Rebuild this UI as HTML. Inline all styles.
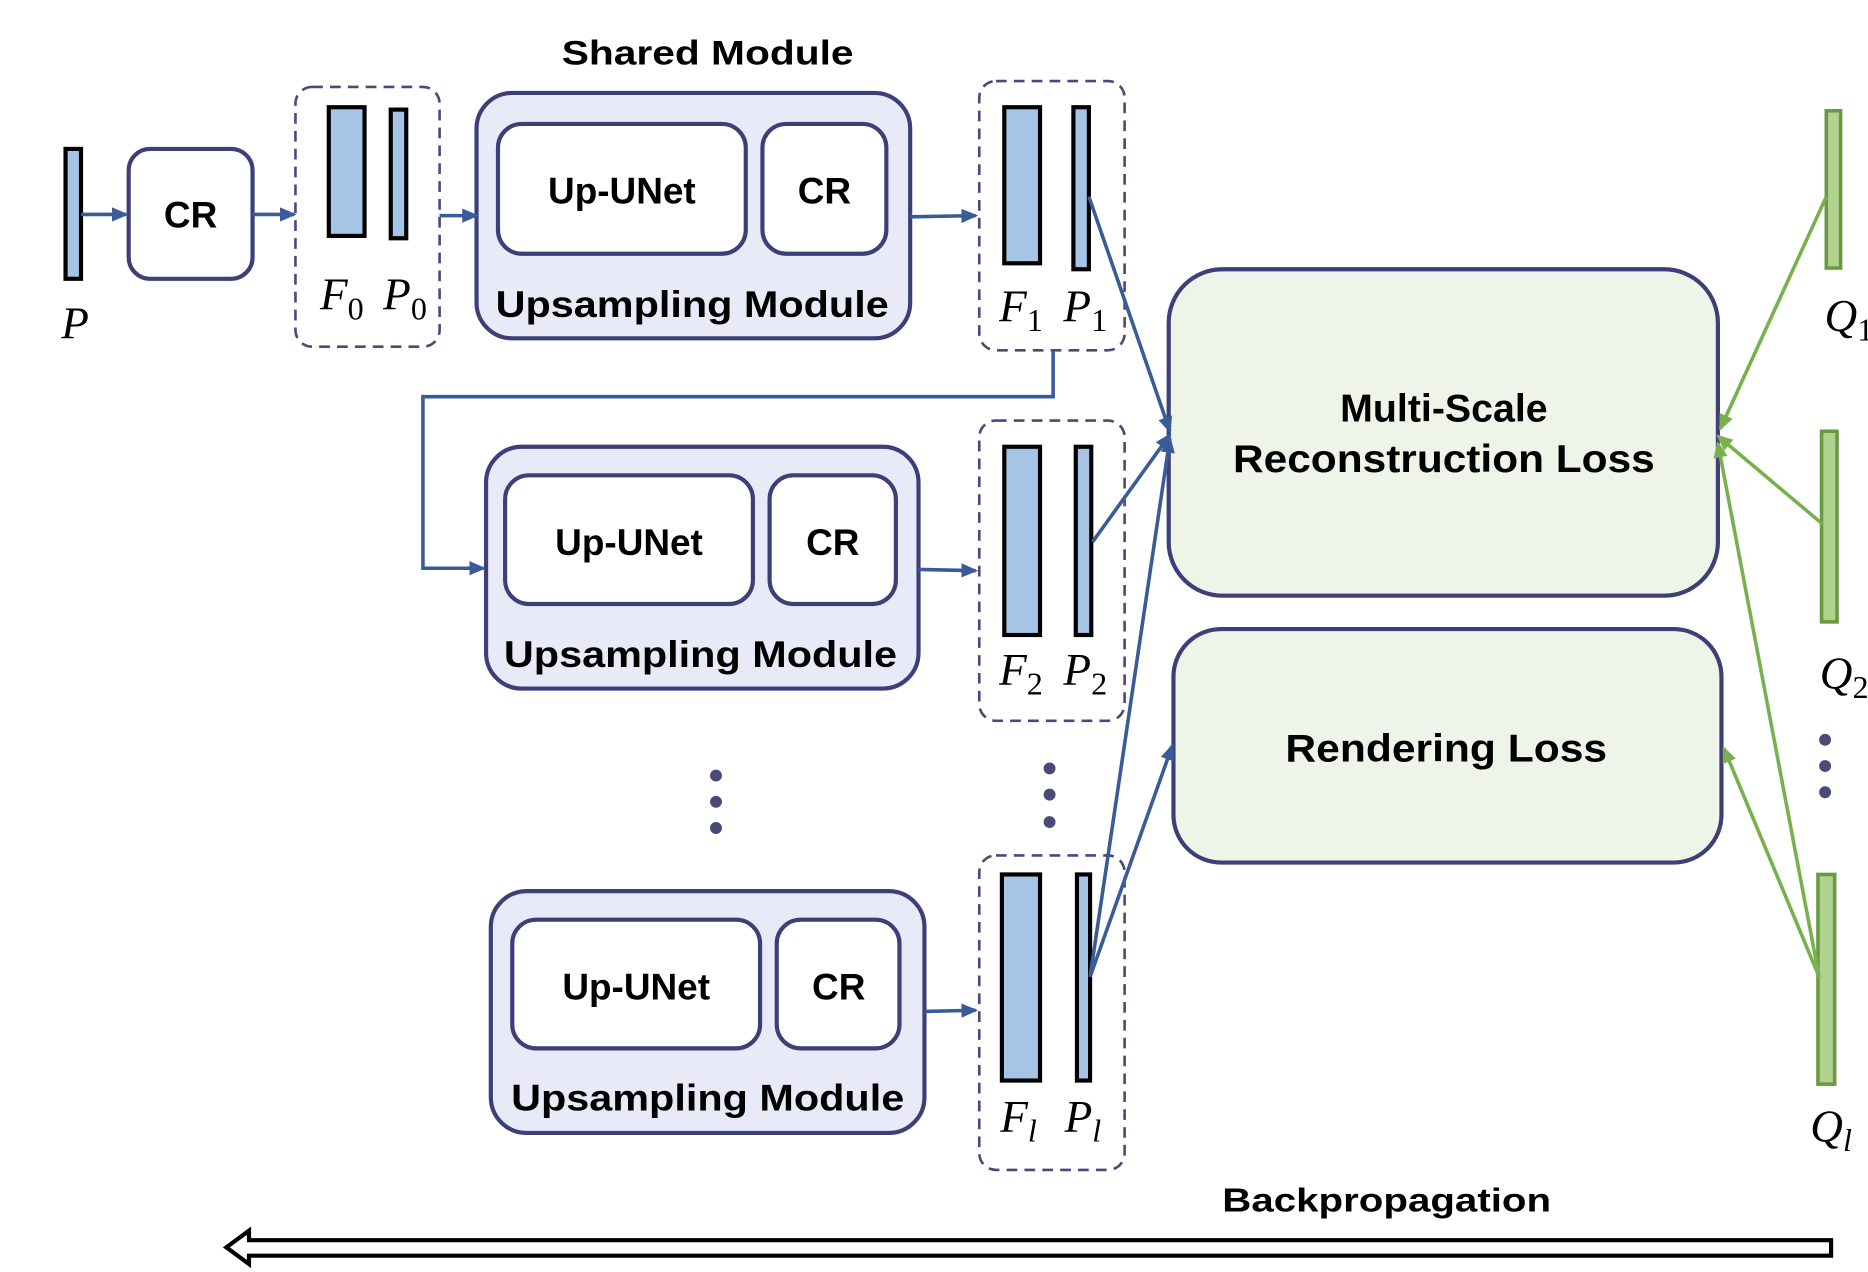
<!DOCTYPE html>
<html><head><meta charset="utf-8"><style>html,body{margin:0;padding:0;background:#fff}svg{display:block}</style></head><body>
<svg width="1868" height="1272" viewBox="0 0 1568 1067.7" preserveAspectRatio="none" xmlns="http://www.w3.org/2000/svg">
<defs>
<marker id="ab" markerWidth="14" markerHeight="12" refX="12" refY="6" orient="auto" markerUnits="userSpaceOnUse"><path d="M0,0 L14,6 L0,12 z" fill="#3a5a98"/></marker>
<marker id="ag" markerWidth="14" markerHeight="12" refX="12" refY="6" orient="auto" markerUnits="userSpaceOnUse"><path d="M0,0 L14,6 L0,12 z" fill="#78b04e"/></marker>
</defs>
<g font-family="Liberation Sans, sans-serif" font-weight="bold" fill="#000" text-anchor="middle">
<text x="594" y="54" font-size="29" textLength="245" lengthAdjust="spacingAndGlyphs">Shared Module</text>
</g>
<g fill="#a6c4e6" stroke="#000" stroke-width="3.5">
<rect x="55" y="125" width="13" height="109"/>
<rect x="276" y="90" width="30" height="108"/><rect x="328" y="92" width="13" height="108"/>
<rect x="843" y="90" width="30" height="131"/><rect x="901" y="90" width="13" height="136"/>
<rect x="843" y="375" width="30" height="158"/><rect x="903" y="375" width="13" height="158"/>
<rect x="841" y="734" width="32" height="173"/><rect x="904" y="734" width="11" height="173"/>
</g>
<g fill="none" stroke="#4a4a78" stroke-width="2.2" stroke-dasharray="9,6">
<rect x="248" y="73" width="121" height="218" rx="14"/>
<rect x="822" y="68" width="122" height="226" rx="14"/>
<rect x="822" y="353" width="122" height="252" rx="14"/>
<rect x="822" y="718" width="122" height="264" rx="14"/>
</g>
<g stroke="#3d3f78" stroke-width="3.5">
<rect x="108" y="125" width="104" height="109" rx="18" fill="#fff"/>
<rect x="400" y="78" width="364" height="206" rx="30" fill="#e9eaf8"/>
<rect x="418" y="104" width="208" height="109" rx="20" fill="#fff"/>
<rect x="640" y="104" width="104" height="109" rx="20" fill="#fff"/>
<rect x="408" y="375" width="363" height="203" rx="30" fill="#e9eaf8"/>
<rect x="424" y="399" width="208" height="108" rx="20" fill="#fff"/>
<rect x="646" y="399" width="106" height="108" rx="20" fill="#fff"/>
<rect x="412" y="748" width="364" height="203" rx="30" fill="#e9eaf8"/>
<rect x="430" y="772" width="208" height="108" rx="20" fill="#fff"/>
<rect x="652" y="772" width="103" height="108" rx="20" fill="#fff"/>
<rect x="981" y="226" width="461" height="274" rx="45" fill="#eef5e8"/>
<rect x="985" y="528" width="460" height="196" rx="40" fill="#eef5e8"/>
</g>
<g font-family="Liberation Sans, sans-serif" font-weight="bold" fill="#000" text-anchor="middle" font-size="31">
<text x="160" y="191">CR</text>
<text x="522" y="171">Up-UNet</text><text x="692" y="171">CR</text>
<text x="581" y="266" textLength="330" lengthAdjust="spacingAndGlyphs">Upsampling Module</text>
<text x="528" y="466">Up-UNet</text><text x="699" y="466">CR</text>
<text x="588" y="560" textLength="330" lengthAdjust="spacingAndGlyphs">Upsampling Module</text>
<text x="534" y="839">Up-UNet</text><text x="704" y="839">CR</text>
<text x="594" y="932" textLength="330" lengthAdjust="spacingAndGlyphs">Upsampling Module</text>
<text x="1212" y="354" font-size="33">Multi-Scale</text>
<text x="1212" y="396" font-size="33" textLength="354" lengthAdjust="spacingAndGlyphs">Reconstruction Loss</text>
<text x="1214" y="639" font-size="33" textLength="270" lengthAdjust="spacingAndGlyphs">Rendering Loss</text>
<text x="1164" y="1017" font-size="28" textLength="276" lengthAdjust="spacingAndGlyphs">Backpropagation</text>
</g>
<g font-family="Liberation Serif, serif" font-style="italic" font-size="38" fill="#000" text-anchor="middle">
<text x="63" y="284">P</text>
<text x="287" y="260">F<tspan font-style="normal" font-size="27" dy="8">0</tspan></text>
<text x="340" y="260">P<tspan font-style="normal" font-size="27" dy="8">0</tspan></text>
<text x="857" y="270">F<tspan font-style="normal" font-size="27" dy="8">1</tspan></text>
<text x="911" y="270">P<tspan font-style="normal" font-size="27" dy="8">1</tspan></text>
<text x="857" y="575">F<tspan font-style="normal" font-size="27" dy="8">2</tspan></text>
<text x="911" y="575">P<tspan font-style="normal" font-size="27" dy="8">2</tspan></text>
<text x="855" y="950">F<tspan font-size="27" dy="8">l</tspan></text>
<text x="909" y="950">P<tspan font-size="27" dy="8">l</tspan></text>
<text x="1552" y="278">Q<tspan font-style="normal" font-size="27" dy="8">1</tspan></text>
<text x="1548" y="578">Q<tspan font-style="normal" font-size="27" dy="8">2</tspan></text>
<text x="1537" y="958">Q<tspan font-size="27" dy="8">l</tspan></text>
</g>
<g stroke="#3a5a98" stroke-width="3" fill="none" marker-end="url(#ab)">
<line x1="68" y1="180" x2="106" y2="180"/>
<line x1="212" y1="180" x2="247" y2="180"/>
<line x1="369" y1="181" x2="400" y2="181"/>
<line x1="764" y1="182" x2="819" y2="181"/>
<polyline points="884,294 884,333 355,333 355,477 406,477"/>
<line x1="771" y1="478" x2="819" y2="479"/>
<line x1="776" y1="849" x2="819" y2="848"/>
<line x1="914" y1="165" x2="982" y2="362"/>
<line x1="917" y1="455" x2="982" y2="365"/>
<line x1="915" y1="820" x2="982" y2="368"/>
<line x1="915" y1="820" x2="984" y2="626"/>
</g>
<g fill="#b1d38f" stroke="#6a9a40" stroke-width="3">
<rect x="1533" y="93" width="12" height="132"/>
<rect x="1529" y="362" width="13" height="160"/>
<rect x="1526" y="734" width="14" height="176"/>
</g>
<g stroke="#78b04e" stroke-width="3" fill="none" marker-end="url(#ag)">
<line x1="1533" y1="165" x2="1444" y2="360"/>
<line x1="1530" y1="440" x2="1442" y2="366"/>
<line x1="1527" y1="820" x2="1442" y2="372"/>
<line x1="1527" y1="820" x2="1447" y2="628"/>
</g>
<g fill="#4a4a78">
<circle cx="601" cy="651" r="5"/><circle cx="601" cy="673" r="5"/><circle cx="601" cy="695" r="5"/>
<circle cx="881" cy="645" r="5"/><circle cx="881" cy="667" r="5"/><circle cx="881" cy="690" r="5"/>
<circle cx="1532" cy="621" r="5"/><circle cx="1532" cy="643" r="5"/><circle cx="1532" cy="665" r="5"/>
</g>
<polygon points="1537,1041 209,1041 209,1033 190,1047 209,1061 209,1054 1537,1054" fill="#fff" stroke="#000" stroke-width="3.5"/>
</svg>
</body></html>
